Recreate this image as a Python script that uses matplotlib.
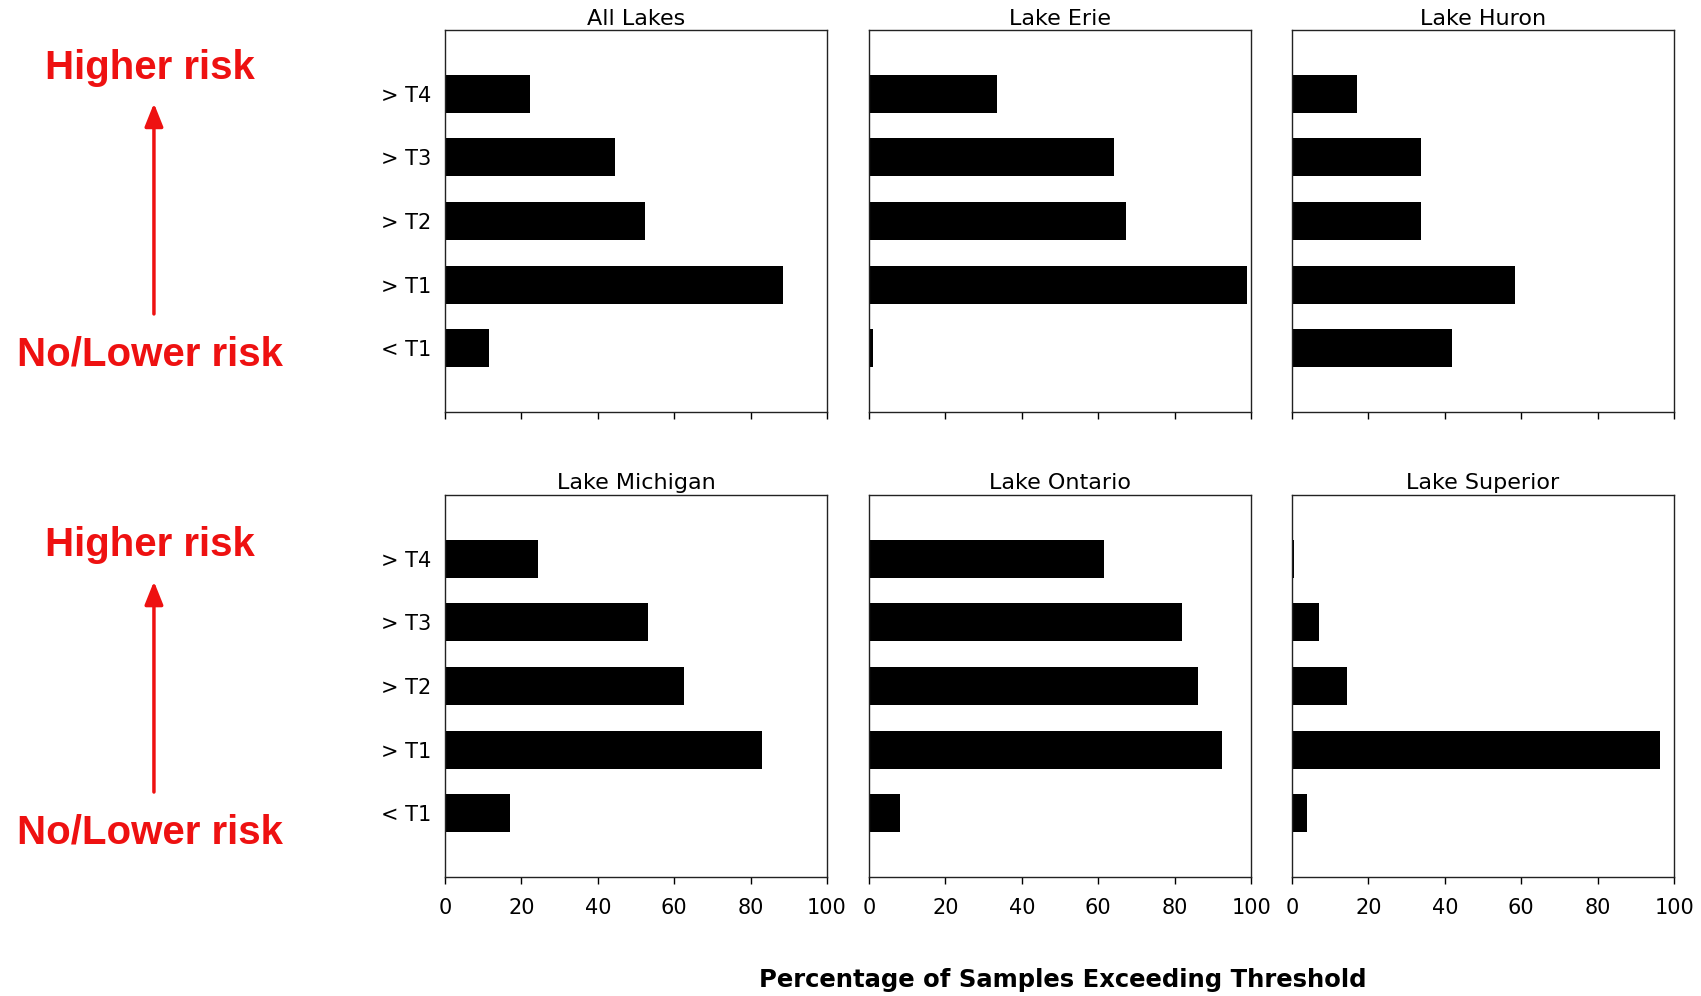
import matplotlib
matplotlib.use("Agg")
import matplotlib.pyplot as plt

# threshold classes, bottom to top
categories = ["< T1", "> T1", "> T2", "> T3", "> T4"]

lakes = ["All Lakes", "Lake Erie", "Lake Huron",
         "Lake Michigan", "Lake Ontario", "Lake Superior"]

all_lakes = [11.6, 88.4, 52.3, 44.6, 22.2]
erie = [1.1, 98.9, 67.3, 64.2, 33.5]
huron = [41.9, 58.4, 33.7, 33.7, 17.0]
michigan = [17.0, 83.0, 62.5, 53.1, 24.4]
ontario = [8.0, 92.3, 86.1, 81.8, 61.6]
superior = [4.0, 96.3, 14.4, 7.1, 0.6]

values = [all_lakes, erie, huron, michigan, ontario, superior]
x_ticks = [0, 20, 40, 60, 80, 100]

fig = plt.figure(figsize=(17.01, 9.96), dpi=100)

lefts = [0.2616, 0.5109, 0.7596]
bottoms = [0.5863, 0.1195]
w, h = 0.2246, 0.3835

for i, (name, vals) in enumerate(zip(lakes, values)):
    row, col = divmod(i, 3)
    ax = fig.add_axes([lefts[col], bottoms[row], w, h])
    ax.barh(range(len(categories)), vals, height=0.6, color="black")
    ax.set_xlim(0, 100)
    ax.set_ylim(-1, 5)
    ax.set_xticks(x_ticks)
    ax.set_title(name, fontsize=16, pad=4)
    for s in ax.spines.values():
        s.set_linewidth(1.0)
        s.set_color("#222222")
    ax.tick_params(axis="x", direction="out", length=5, width=1, labelsize=15, pad=10)
    ax.tick_params(axis="y", length=0, labelsize=15, pad=10)
    if row == 0:
        ax.set_xticklabels([])
    if col == 0:
        ax.set_yticks(range(len(categories)))
        ax.set_yticklabels(categories)
    else:
        ax.set_yticks([])

fig.text(0.625, 0.016, "Percentage of Samples Exceeding Threshold",
         ha="center", va="center", fontsize=17.5, fontweight="bold")

# red risk annotations on the left
for y_hi, y_lo, a_top, a_bot in [(0.932, 0.644, 0.899, 0.682),
                                 (0.453, 0.164, 0.419, 0.202)]:
    fig.text(0.088, y_hi, "Higher risk", color="#ee1111", fontsize=29,
             fontweight="bold", family="Liberation Sans", ha="center", va="center")
    fig.text(0.088, y_lo, "No/Lower risk", color="#ee1111", fontsize=29,
             fontweight="bold", family="Liberation Sans", ha="center", va="center")
    fig.add_artist(matplotlib.patches.FancyArrowPatch(
        (0.0905, a_bot), (0.0905, a_top), transform=fig.transFigure,
        arrowstyle="-|>,head_length=7,head_width=2.8", color="#ee1111", lw=2.5,
        mutation_scale=2))

fig.savefig("out.png", dpi=100)
